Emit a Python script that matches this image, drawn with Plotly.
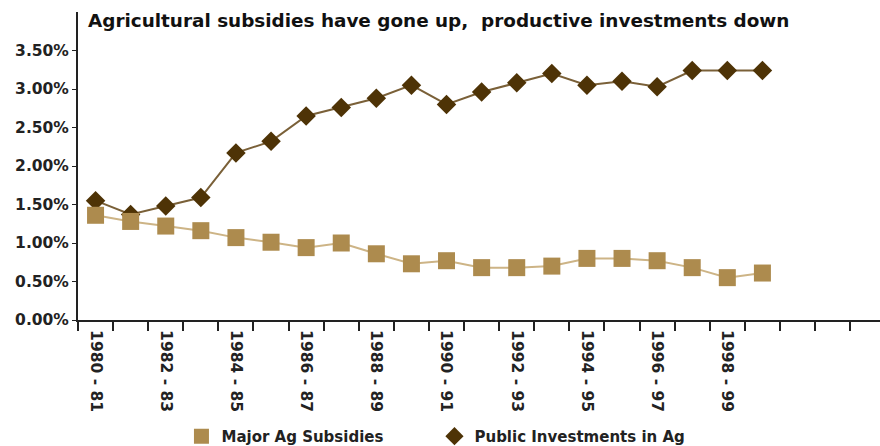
import plotly.graph_objects as go

categories = ["1980 - 81", "1981 - 82", "1982 - 83", "1983 - 84", "1984 - 85", "1985 - 86",
              "1986 - 87", "1987 - 88", "1988 - 89", "1989 - 90", "1990 - 91", "1991 - 92",
              "1992 - 93", "1993 - 94", "1994 - 95", "1995 - 96", "1996 - 97", "1997 - 98",
              "1998 - 99", "1999 - 00", "2000 - 01", "2001 - 02", "2002 - 03"]
tick_labels = ["1980 - 81", "", "1982 - 83", "", "1984 - 85", "", "1986 - 87", "", "1988 - 89", "",
               "1990 - 91", "", "1992 - 93", "", "1994 - 95", "", "1996 - 97", "", "1998 - 99", "",
               "", "", ""]

major_ag_subsidies = [0.0136, 0.0128, 0.0122, 0.0116, 0.0107, 0.0101, 0.0094, 0.0100, 0.0086, 0.0073,
                      0.0077, 0.0068, 0.0068, 0.0070, 0.0080, 0.0080, 0.0077, 0.0068, 0.0055, 0.0061]
public_investments = [0.0155, 0.0137, 0.0148, 0.0159, 0.0217, 0.0232, 0.0265, 0.0276, 0.0288, 0.0305,
                      0.0280, 0.0296, 0.0308, 0.0320, 0.0305, 0.0310, 0.0303, 0.0324, 0.0324, 0.0324]

y_ticks = [0, 0.005, 0.01, 0.015, 0.02, 0.025, 0.03, 0.035]
y_tick_text = ["0.00%", "0.50%", "1.00%", "1.50%", "2.00%", "2.50%", "3.00%", "3.50%"]

FONT = "DejaVu Sans"
SUB_MARKER = dict(symbol="square", size=17, color="#AD8B4E", line=dict(width=0))
INV_MARKER = dict(symbol="diamond", size=15, color="#4E3306", line=dict(width=0))

fig = go.Figure()
fig.add_trace(go.Scatter(
    x=categories[:len(public_investments)], y=public_investments,
    name="Public Investments in Ag", mode="lines+markers",
    line=dict(color="#7A6038", width=2), marker=INV_MARKER, showlegend=False,
))
fig.add_trace(go.Scatter(
    x=categories[:len(major_ag_subsidies)], y=major_ag_subsidies,
    name="Major Ag Subsidies", mode="lines+markers",
    line=dict(color="#CDB486", width=2), marker=SUB_MARKER, showlegend=False,
))
# legend entries (symbol only, as in the reference)
fig.add_trace(go.Scatter(x=[None], y=[None], name="Major Ag Subsidies", mode="markers",
                         marker=dict(SUB_MARKER, size=15), legendrank=1))
fig.add_trace(go.Scatter(x=[None], y=[None], name="Public Investments in Ag", mode="markers",
                         marker=dict(INV_MARKER, size=14), legendrank=2))

fig.update_layout(
    width=880, height=446,
    margin=dict(l=78, r=0, t=12, b=125.5, autoexpand=False),
    paper_bgcolor="white", plot_bgcolor="white",
    font=dict(family=FONT, color="#222222"),
    showlegend=True,
    legend=dict(orientation="h", x=0.129, xanchor="left", y=-0.378, yanchor="middle",
                font=dict(family=FONT, size=15, color="#222222", weight="bold"),
                entrywidth=208, entrywidthmode="pixels"),
    annotations=[dict(
        text="<b>Agricultural subsidies have gone up,  productive investments down</b>",
        xref="paper", yref="paper", x=0.01, y=1.0, xanchor="left", yanchor="top",
        yshift=4, showarrow=False, font=dict(family=FONT, size=18.4, color="#111111"))],
)

fig.update_xaxes(
    type="category", categoryorder="array", categoryarray=categories,
    tickmode="array", tickvals=categories, ticktext=tick_labels,
    tickson="boundaries", ticks="outside", ticklen=9, tickwidth=1.5, tickcolor="#222222",
    tickangle=90, tickfont=dict(family=FONT, size=15.5, color="#222222", weight="bold"),
    ticklabelstandoff=5,
    range=[-0.5, 22.35], showline=True, linecolor="#222222", linewidth=2,
    showgrid=False, zeroline=False, automargin=False,
)
fig.update_yaxes(
    range=[0, 0.04], tickmode="array", tickvals=y_ticks, ticktext=y_tick_text,
    ticks="outside", ticklen=4, tickwidth=1, tickcolor="#222222",
    tickfont=dict(family=FONT, size=15.5, color="#222222", weight="bold"),
    showline=True, linecolor="#222222", linewidth=2, showgrid=False, zeroline=False,
    automargin=False,
)

fig.write_html("out.html", config={"displayModeBar": False},
               post_script="document.body.style.margin='0';document.body.style.overflow='hidden';")
